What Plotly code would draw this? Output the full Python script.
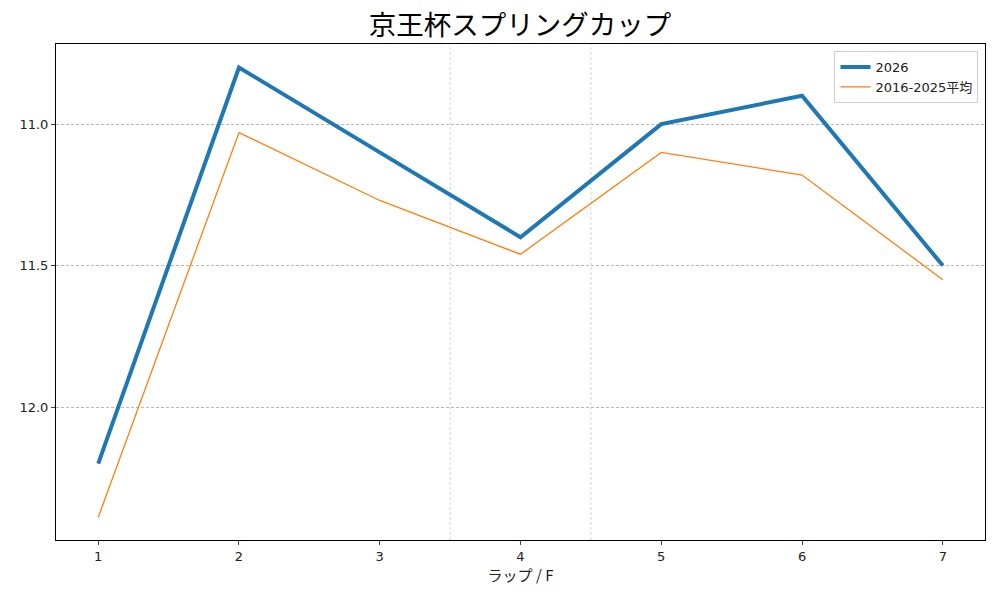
import plotly.graph_objects as go

# Lap times (seconds) by furlong.
laps = [1, 2, 3, 4, 5, 6, 7]
laps_2026 = [12.2, 10.8, 11.1, 11.4, 11.0, 10.9, 11.5]
laps_avg = [12.39, 11.03, 11.27, 11.46, 11.10, 11.18, 11.55]
y_ticks = [11.0, 11.5, 12.0]
split_laps = [3.5, 4.5]

FONT = "DejaVu Sans, Noto Sans CJK JP"
TITLE_FONT = "Noto Sans CJK JP"
GRID = dict(color="#b8b8b8", width=0.6, dash="3px,2px")


def main() -> None:
    """Build the lap-time comparison chart."""
    fig = go.Figure()

    fig.add_trace(
        go.Scatter(
            x=laps,
            y=laps_2026,
            mode="lines",
            name="2026",
            line=dict(color="#1f77b4", width=4),
        )
    )
    fig.add_trace(
        go.Scatter(
            x=laps,
            y=laps_avg,
            mode="lines",
            name="2016-2025平均",
            line=dict(color="#ff7f0e", width=1.3),
        )
    )

    # Dashed separators between sections of the race.
    for x in split_laps:
        fig.add_vline(x=x, line=GRID, layer="below")

    fig.update_layout(
        width=1000,
        height=600,
        margin=dict(l=56, r=15, t=44, b=60, autoexpand=False),
        paper_bgcolor="white",
        plot_bgcolor="white",
        font=dict(family=FONT, size=13, color="#222222"),
        title=dict(
            text="京王杯スプリングカップ",
            x=0.52,
            xanchor="center",
            y=0.958,
            yanchor="middle",
            font=dict(family=TITLE_FONT, size=27.5, color="black"),
        ),
        legend=dict(
            x=0.993,
            y=0.986,
            xanchor="right",
            yanchor="top",
            bgcolor="rgba(255,255,255,0.8)",
            bordercolor="#d0d0d0",
            borderwidth=1,
            font=dict(size=13),
            tracegroupgap=0,
        ),
        showlegend=True,
    )

    fig.update_xaxes(
        range=[0.7, 7.3],
        tickmode="array",
        tickvals=laps,
        ticks="outside",
        ticklen=4,
        showgrid=False,
        zeroline=False,
        showline=True,
        linecolor="black",
        linewidth=1,
        mirror=True,
        title=dict(
            text="ラップ / F",
            font=dict(family=TITLE_FONT, size=15),
            standoff=6,
        ),
    )
    fig.update_yaxes(
        range=[12.47, 10.717],
        tickmode="array",
        tickvals=y_ticks,
        tickformat=".1f",
        ticks="outside",
        ticklen=4,
        showgrid=True,
        gridcolor=GRID["color"],
        gridwidth=GRID["width"],
        griddash=GRID["dash"],
        zeroline=False,
        showline=True,
        linecolor="black",
        linewidth=1,
        mirror=True,
    )

    # Drop the default page margin so the figure sits at the window corner.
    fig.write_html(
        "out.html",
        config={"displayModeBar": False},
        post_script="document.body.style.margin='0';",
    )


if __name__ == "__main__":
    main()
